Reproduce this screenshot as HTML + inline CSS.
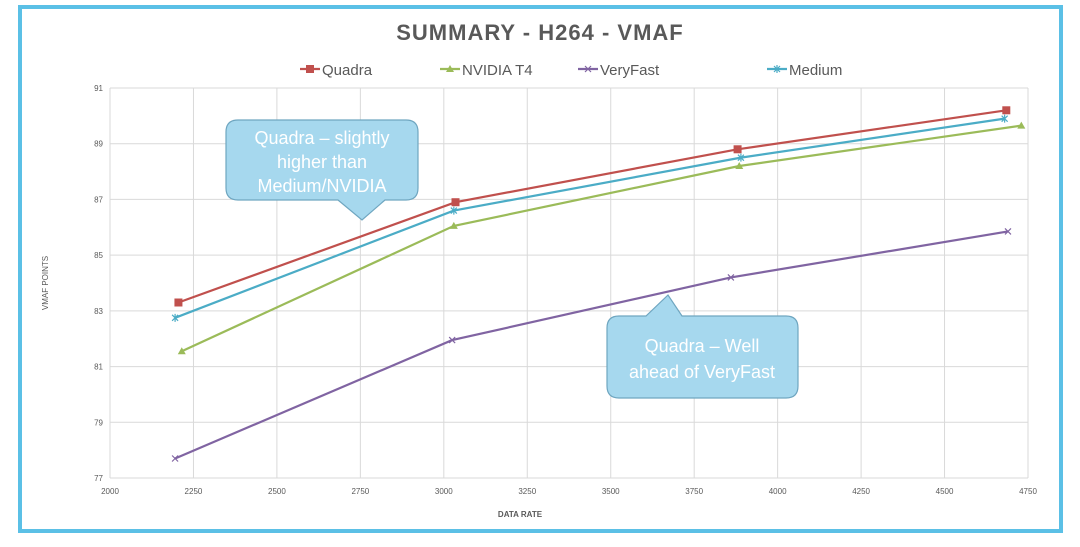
<!DOCTYPE html>
<html><head><meta charset="utf-8"><style>
body{margin:0;background:#fff;font-family:"Liberation Sans",sans-serif}
svg{display:block}
</style></head><body>
<svg id="c" width="1080" height="547">
<rect x="20" y="7" width="1041" height="524" fill="#fff" stroke="#5bc0e6" stroke-width="4"/>
<text x="540" y="40" text-anchor="middle" font-size="22" font-weight="bold" fill="#595959" letter-spacing="1">SUMMARY - H264 - VMAF</text>
<g id="grid"></g><g id="series"></g><g id="legend"></g>
<text x="520" y="517" text-anchor="middle" font-size="8" font-weight="bold" fill="#595959">DATA RATE</text>
<text transform="translate(48,283) rotate(-90)" text-anchor="middle" font-size="8" fill="#595959">VMAF POINTS</text>
<g>
<path d="M238,120 H406 Q418,120 418,132 V188 Q418,200 406,200 H385 L362,220 L338,200 H238 Q226,200 226,188 V132 Q226,120 238,120 Z" fill="#a6d8ee" stroke="#6fa6c0" stroke-width="1.2"/>
<text x="322" y="144" text-anchor="middle" font-size="18" fill="#fff">Quadra – slightly</text>
<text x="322" y="168" text-anchor="middle" font-size="18" fill="#fff">higher than</text>
<text x="322" y="192" text-anchor="middle" font-size="18" fill="#fff">Medium/NVIDIA</text>
</g>
<g>
<path d="M619,316 H646 L668,295 L682,316 H786 Q798,316 798,328 V386 Q798,398 786,398 H619 Q607,398 607,386 V328 Q607,316 619,316 Z" fill="#a6d8ee" stroke="#6fa6c0" stroke-width="1.2"/>
<text x="702" y="352" text-anchor="middle" font-size="18" fill="#fff">Quadra – Well</text>
<text x="702" y="378" text-anchor="middle" font-size="18" fill="#fff">ahead of VeryFast</text>
</g>
</svg>
<script>
const xTicks=[2000,2250,2500,2750,3000,3250,3500,3750,4000,4250,4500,4750];
const yTicks=[77,79,81,83,85,87,89,91];
const seriesNames=["Quadra","NVIDIA T4","VeryFast","Medium"];
const quadraX=[2205,3035,3880,4685];
const quadraY=[83.3,86.9,88.8,90.2];
const nvidiaX=[2215,3030,3885,4730];
const nvidiaY=[81.55,86.05,88.2,89.65];
const veryfastX=[2195,3025,3860,4690];
const veryfastY=[77.7,81.95,84.2,85.85];
const mediumX=[2195,3030,3890,4680];
const mediumY=[82.75,86.6,88.5,89.9];

const NS="http://www.w3.org/2000/svg";
const L=110,R=1028,T=88,B=478;
const sx=v=>L+(v-2000)/(4750-2000)*(R-L);
const sy=v=>B-(v-77)/(91-77)*(B-T);
function mk(t,a,p){const e=document.createElementNS(NS,t);for(const k in a)e.setAttribute(k,a[k]);p.appendChild(e);return e;}
const grid=document.getElementById('grid');
xTicks.forEach(v=>{
 const l=mk('line',{x1:sx(v),x2:sx(v),y1:T,y2:B,stroke:'#d9d9d9','stroke-width':1},grid);
 
 
 const t=mk('text',{x:sx(v),y:B+16,'text-anchor':'middle','font-size':8,fill:'#595959'},grid);
 t.textContent=v;
 
 
});
yTicks.forEach(v=>{
 const l=mk('line',{x1:L,x2:R,y1:sy(v),y2:sy(v),stroke:'#d9d9d9','stroke-width':1},grid);
 
 
 const t=mk('text',{x:L-7,y:sy(v)+3,'text-anchor':'end','font-size':8,fill:'#595959'},grid);
 t.textContent=v;
 
 
});
const colors=["#c0504d","#9bbb59","#8064a2","#4bacc6"];
const markers=["square","triangle","x","star"];
const data=[[quadraX,quadraY],[nvidiaX,nvidiaY],[veryfastX,veryfastY],[mediumX,mediumY]];
function marker(kind,x,y,c,p){
 if(kind==='square')return mk('rect',{x:x-4,y:y-4,width:8,height:8,fill:c},p);
 if(kind==='triangle')return mk('path',{d:`M${x},${y-4}L${x+4},${y+3}L${x-4},${y+3}Z`,fill:c},p);
 if(kind==='x')return mk('path',{d:`M${x-3},${y-3}L${x+3},${y+3}M${x-3},${y+3}L${x+3},${y-3}`,stroke:c,'stroke-width':1.2},p);
 return mk('path',{d:`M${x-3},${y-3}L${x+3},${y+3}M${x-3},${y+3}L${x+3},${y-3}M${x},${y-4}V${y+4}`,stroke:c,'stroke-width':1.2},p);
}
const sg=document.getElementById('series');
data.forEach((d,i)=>{
 const g=mk('g',{},sg);
 
 
 const pts=d[0].map((x,j)=>sx(x)+','+sy(d[1][j])).join(' ');
 const pl=mk('polyline',{points:pts,fill:'none',stroke:colors[i],'stroke-width':2.2},g);
 
 
 d[0].forEach((x,j)=>{
  const m=marker(markers[i],sx(x),sy(d[1][j]),colors[i],g);
  
  
 });
});
const lg=document.getElementById('legend');
const lx=[300,440,578,767];
seriesNames.forEach((n,i)=>{
 const g=mk('g',{},lg);
 
 
 mk('line',{x1:lx[i],x2:lx[i]+20,y1:69,y2:69,stroke:colors[i],'stroke-width':2.2},g);
 marker(markers[i],lx[i]+10,69,colors[i],g);
 const t=mk('text',{x:lx[i]+22,y:75,'font-size':15,fill:'#595959'},g);
 t.textContent=n;
});
</script>
</body></html>
